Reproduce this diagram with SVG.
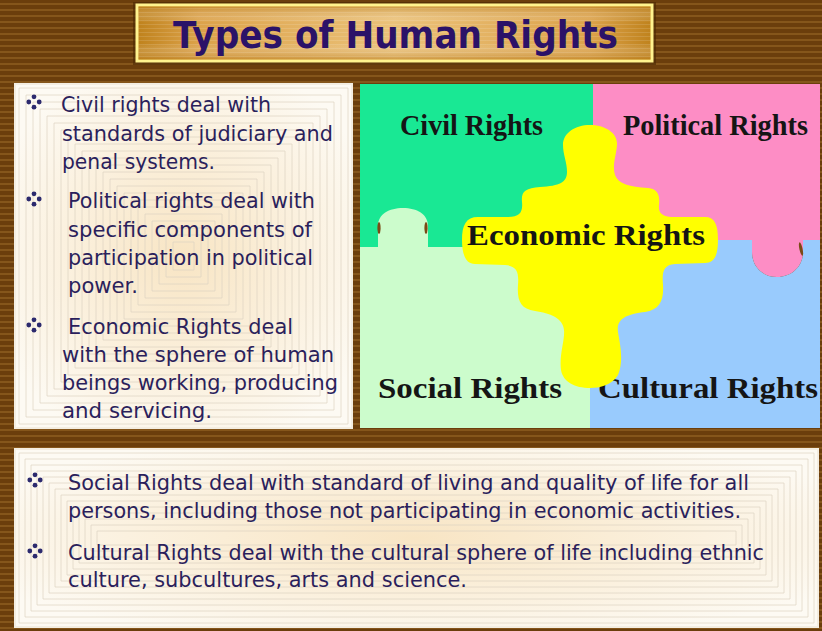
<svg xmlns="http://www.w3.org/2000/svg" width="822" height="631" viewBox="0 0 822 631">
  <defs>
    <pattern id="woodStripes" x="0" y="0" width="822" height="6" patternUnits="userSpaceOnUse">
      <rect x="0" y="0" width="822" height="6" fill="#6b3e0c"/>
      <rect x="0" y="3" width="822" height="2" fill="#85561b"/>
    </pattern>
    <linearGradient id="goldH" x1="0" y1="0" x2="1" y2="0">
      <stop offset="0" stop-color="#bf821c"/>
      <stop offset="0.12" stop-color="#dca24a"/>
      <stop offset="0.5" stop-color="#ebc27a"/>
      <stop offset="0.88" stop-color="#dca24a"/>
      <stop offset="1" stop-color="#bf821c"/>
    </linearGradient>
    <linearGradient id="goldV" x1="0" y1="0" x2="0" y2="1">
      <stop offset="0" stop-color="#b87812" stop-opacity="0.55"/>
      <stop offset="0.3" stop-color="#ffffff" stop-opacity="0"/>
      <stop offset="0.7" stop-color="#ffffff" stop-opacity="0"/>
      <stop offset="1" stop-color="#b87812" stop-opacity="0.55"/>
    </linearGradient>
    <pattern id="goldLines" x="0" y="0" width="10" height="4" patternUnits="userSpaceOnUse">
      <rect x="0" y="0" width="10" height="1" fill="#ffffff" opacity="0.12"/>
    </pattern>
    <radialGradient id="panelGlow" cx="0.5" cy="0.5" r="0.6">
      <stop offset="0" stop-color="#f8e5c4"/>
      <stop offset="0.6" stop-color="#fbf1df"/>
      <stop offset="1" stop-color="#fdfaf3"/>
    </radialGradient>
    <g id="bullet">
      <circle cx="0" cy="-5.2" r="2.4"/>
      <circle cx="-5.2" cy="0" r="2.4"/>
      <circle cx="5.2" cy="0" r="2.4"/>
      <circle cx="0" cy="5.2" r="2.4"/>
    </g>
  </defs>
  <style>
    .panel-frame { fill: url(#panelGlow); stroke: #f4eee2; stroke-width: 2; }
    .rings { fill: none; stroke: #ddd3c2; stroke-width: 1; opacity: 0.7; }
    .body { font-family: "DejaVu Sans", Verdana, sans-serif; font-size: 21px; fill: #2b1f5c; }
    .body-wide { font-family: "DejaVu Sans", Verdana, sans-serif; font-size: 22px; fill: #2b1f5c; }
    .bul { fill: #2c2a6e; }
    .piece-label { font-family: "Liberation Serif", "Times New Roman", serif; font-weight: bold; font-size: 30px; fill: #151515; }
    .nick { fill: #7a4a16; }
  </style>

  <!-- striped wooden backdrop -->
  <rect x="0" y="0" width="822" height="631" fill="url(#woodStripes)"/>

  <!-- heading plate -->
  <g id="title">
    <rect x="133" y="2" width="523" height="63" fill="#4a2804" opacity="0.6"/>
    <rect x="137" y="5" width="515" height="56" fill="url(#goldH)" stroke="#fff38e" stroke-width="3"/>
    <rect x="138.5" y="6.5" width="512" height="53" fill="url(#goldV)"/>
    <rect x="138.5" y="6.5" width="512" height="53" fill="url(#goldLines)"/>
    <text x="173" y="48" font-family="'DejaVu Sans', Verdana, sans-serif" font-weight="bold" font-size="37" fill="#2b1268" textLength="445" lengthAdjust="spacingAndGlyphs">Types of Human Rights</text>
  </g>

  <!-- left text panel -->
  <g id="left-panel">
    <rect class="panel-frame" x="15" y="84" width="337" height="344"/>
    <path class="rings" d="M19 88h329v336h-329z M26 95h315v322h-315z M33 102h301v308h-301z M40 109h287v294h-287z M47 116h273v280h-273z M54 123h259v266h-259z M61 130h245v252h-245z M68 137h231v238h-231z M75 144h217v224h-217z M82 151h203v210h-203z M89 158h189v196h-189z M96 165h175v182h-175z M103 172h161v168h-161z M110 179h147v154h-147z M117 186h133v140h-133z M124 193h119v126h-119z M131 200h105v112h-105z M138 207h91v98h-91z M145 214h77v84h-77z M152 221h63v70h-63z M159 228h49v56h-49z M166 235h35v42h-35z M173 242h21v28h-21z"/>
    <use href="#bullet" class="bul" x="34" y="102"/>
    <use href="#bullet" class="bul" x="34" y="199"/>
    <use href="#bullet" class="bul" x="34" y="325"/>
    <text class="body" x="61" y="112" textLength="210" lengthAdjust="spacingAndGlyphs">Civil rights deal with</text>
    <text class="body" x="62" y="141" textLength="271" lengthAdjust="spacingAndGlyphs">standards of judiciary and</text>
    <text class="body" x="62" y="169" textLength="153" lengthAdjust="spacingAndGlyphs">penal systems.</text>
    <text class="body" x="68" y="208" textLength="247" lengthAdjust="spacingAndGlyphs">Political rights deal with</text>
    <text class="body" x="68" y="237" textLength="244" lengthAdjust="spacingAndGlyphs">specific components of</text>
    <text class="body" x="68" y="265" textLength="245" lengthAdjust="spacingAndGlyphs">participation in political</text>
    <text class="body" x="68" y="293" textLength="70" lengthAdjust="spacingAndGlyphs">power.</text>
    <text class="body" x="68" y="334" textLength="225" lengthAdjust="spacingAndGlyphs">Economic Rights deal</text>
    <text class="body" x="62" y="362" textLength="272" lengthAdjust="spacingAndGlyphs">with the sphere of human</text>
    <text class="body" x="62" y="390" textLength="276" lengthAdjust="spacingAndGlyphs">beings working, producing</text>
    <text class="body" x="62" y="418" textLength="150" lengthAdjust="spacingAndGlyphs">and servicing.</text>
  </g>

  <!-- jigsaw of rights -->
  <g id="civil-rights">
    <rect x="360" y="84" width="233" height="163" fill="#19e894"/>
    <text class="piece-label" x="400" y="135" textLength="143" lengthAdjust="spacingAndGlyphs">Civil Rights</text>
  </g>
  <g id="political-rights">
    <path d="M593 84H820V240H803V252C803 267 791 277 777 277C763 277 752 267 752 252V240H593Z" fill="#fd8dc5"/>
    <text class="piece-label" x="623" y="135" textLength="185" lengthAdjust="spacingAndGlyphs">Political Rights</text>
  </g>
  <g id="social-rights">
    <path d="M360 247H378V226C378 214 389 208 403 208C417 208 428 214 428 226V247H590V428H360Z" fill="#ccfccc"/>
    <ellipse class="nick" cx="379" cy="228" rx="1.6" ry="6"/>
    <ellipse class="nick" cx="426" cy="228" rx="1.6" ry="6"/>
    <text class="piece-label" x="378" y="398" textLength="184" lengthAdjust="spacingAndGlyphs">Social Rights</text>
  </g>
  <g id="cultural-rights">
    <path d="M590 240H752V252C752 267 763 277 777 277C791 277 803 267 803 252V240H820V428H590Z" fill="#99cbfd"/>
    <ellipse class="nick" cx="801" cy="249" rx="1.6" ry="7" transform="rotate(-12 801 249)"/>
    <text class="piece-label" x="598" y="398" textLength="220" lengthAdjust="spacingAndGlyphs">Cultural Rights</text>
  </g>
  <g id="economic-rights">
    <path fill="#ffff00" d="M590 125C605 125 618 133 617 145C616 157 612 165 615 175C618 184 630 187 648 188C658 189 660 195 659 205C658 213 662 217 675 217L705 217C715 217 718 225 718 240C718 256 714 263 705 263L675 264C663 265 662 272 663 285C664 300 660 310 645 312C628 314 616 318 618 332C620 345 624 360 618 375C612 385 600 388 590 388C575 388 563 382 561 370C559 355 565 340 564 330C563 318 550 313 535 311C520 309 517 300 518 285C519 272 517 266 505 265L475 264C466 264 462 255 462 240C462 225 466 217 478 217L508 217C520 217 523 212 522 202C521 192 525 188 540 187C560 186 567 182 567 172C567 162 563 155 563 145C563 133 575 125 590 125Z"/>
    <text class="piece-label" x="467" y="245" textLength="238" lengthAdjust="spacingAndGlyphs">Economic Rights</text>
  </g>

  <!-- lower text panel -->
  <g id="bottom-panel">
    <rect class="panel-frame" x="15" y="449" width="803" height="178"/>
    <path class="rings" d="M19 453h795v170h-795z M25 459h783v158h-783z M31 465h771v146h-771z M37 471h759v134h-759z M43 477h747v122h-747z M49 483h735v110h-735z M55 489h723v98h-723z M61 495h711v86h-711z M67 501h699v74h-699z M73 507h687v62h-687z M79 513h675v50h-675z M85 519h663v38h-663z M91 525h651v26h-651z M97 531h639v14h-639z"/>
    <use href="#bullet" class="bul" x="35" y="480"/>
    <use href="#bullet" class="bul" x="35" y="551"/>
    <text class="body-wide" x="68" y="490" textLength="681" lengthAdjust="spacingAndGlyphs">Social Rights deal with standard of living and quality of life for all</text>
    <text class="body-wide" x="68" y="518" textLength="673" lengthAdjust="spacingAndGlyphs">persons, including those not participating in economic activities.</text>
    <text class="body-wide" x="68" y="560" textLength="696" lengthAdjust="spacingAndGlyphs">Cultural Rights deal with the cultural sphere of life including ethnic</text>
    <text class="body-wide" x="68" y="587" textLength="399" lengthAdjust="spacingAndGlyphs">culture, subcultures, arts and science.</text>
  </g>
</svg>
